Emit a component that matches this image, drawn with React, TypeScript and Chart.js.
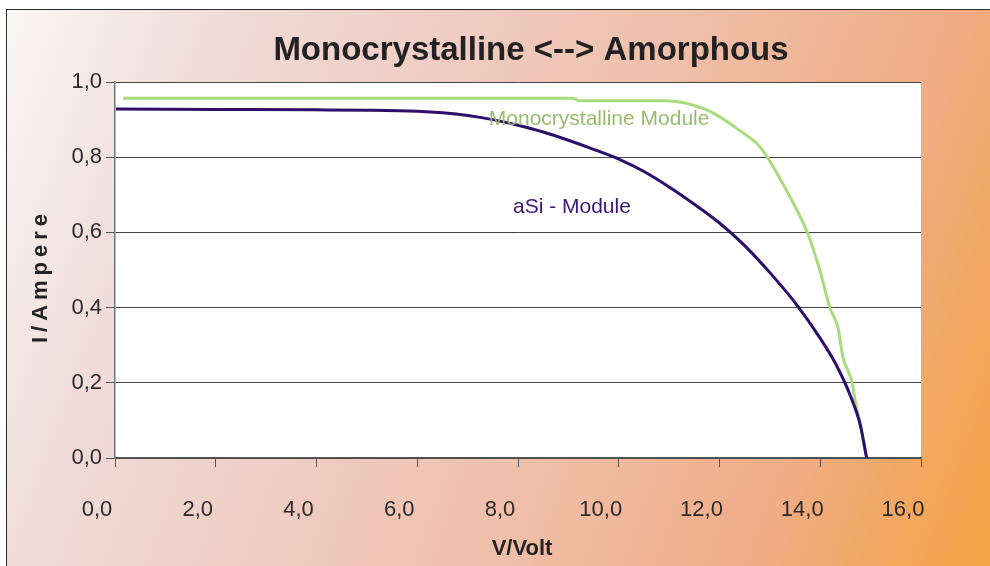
import React, { useEffect, useRef } from 'react';
import { Chart, registerables } from 'chart.js';

Chart.register(...registerables);

const titleText = 'Monocrystalline <--> Amorphous';
const xTitle = 'V/Volt';
const yTitle = 'I/Ampere';
const monoLabel = 'Monocrystalline Module';
const asiLabel = 'aSi - Module';

const xTicks = [0, 2, 4, 6, 8, 10, 12, 14, 16];
const yTicks = [0, 0.2, 0.4, 0.6, 0.8, 1.0];

const monoV = [0.16, 9.09, 9.22, 10.9, 11.47, 11.87, 12.41, 12.8, 12.96, 13.4, 13.74, 13.99, 14.19, 14.35, 14.45, 14.63, 14.69, 14.79, 14.89, 14.92];
const monoI = [0.957, 0.957, 0.95, 0.95, 0.939, 0.918, 0.87, 0.828, 0.798, 0.694, 0.601, 0.5, 0.4, 0.348, 0.269, 0.202, 0.154, 0.093, 0.021, 0.008];

const asiV = [0.02, 2.0, 4.0, 5.0, 6.0, 6.5, 7.0, 7.5, 8.0, 8.5, 9.0, 9.5, 10.0, 10.5, 11.0, 11.5, 12.0, 12.5, 13.0, 13.5, 14.0, 14.3, 14.6, 14.8, 14.92];
const asiI = [0.928, 0.927, 0.926, 0.925, 0.922, 0.918, 0.911, 0.9, 0.885, 0.867, 0.845, 0.821, 0.795, 0.762, 0.721, 0.675, 0.625, 0.565, 0.493, 0.413, 0.318, 0.252, 0.165, 0.085, 0.0];

const FONT = "'Liberation Sans', Arial, sans-serif";
const fmt = (v: number) => Number(v).toFixed(1).replace('.', ',');

const textPlugin = {
  id: 'texts',
  beforeDraw(chart: any) {
    const { ctx, chartArea } = chart;
    ctx.save();
    ctx.fillStyle = '#ffffff';
    ctx.fillRect(chartArea.left, chartArea.top, chartArea.right - chartArea.left, chartArea.bottom - chartArea.top);
    ctx.restore();
  },
  afterDatasetsDraw(chart: any) {
    const { ctx, scales } = chart;
    const x = scales.x;
    const y = scales.y;
    ctx.save();
    ctx.textAlign = 'center';
    ctx.textBaseline = 'alphabetic';
    ctx.font = `21px ${FONT}`;
    ctx.fillStyle = '#9abb6e';
    ctx.fillText(monoLabel, x.getPixelForValue(9.61), y.getPixelForValue(0.886));
    ctx.fillStyle = '#3a1878';
    ctx.fillText(asiLabel, x.getPixelForValue(9.07), y.getPixelForValue(0.652));
    ctx.restore();
  },
  afterDraw(chart: any) {
    const { ctx } = chart;
    ctx.save();
    ctx.fillStyle = '#222222';
    ctx.textAlign = 'center';
    ctx.textBaseline = 'alphabetic';
    ctx.font = `bold 33px ${FONT}`;
    ctx.fillText(titleText, 531, 60);
    ctx.font = `bold 22px ${FONT}`;
    ctx.fillText(xTitle, 522, 555);
    ctx.translate(47, 276);
    ctx.rotate(-Math.PI / 2);
    (ctx as any).letterSpacing = '5px';
    ctx.fillText(yTitle, 0, 0);
    ctx.restore();
  },
};

export default function App() {
  const ref = useRef<HTMLCanvasElement | null>(null);

  useEffect(() => {
    if (!ref.current) return;
    const chart = new Chart(ref.current, {
      type: 'line',
      data: {
        datasets: [
          {
            label: asiLabel,
            data: asiV.map((v, i) => ({ x: v, y: asiI[i] })),
            borderColor: '#2d0e6b',
            borderWidth: 3,
            pointRadius: 0,
            fill: false,
            cubicInterpolationMode: 'monotone',
          },
          {
            label: monoLabel,
            data: monoV.map((v, i) => ({ x: v, y: monoI[i] })),
            borderColor: '#a8dc7c',
            borderWidth: 3,
            pointRadius: 0,
            fill: false,
            cubicInterpolationMode: 'monotone',
          },
        ],
      },
      options: {
        animation: false,
        responsive: false,
        devicePixelRatio: 1,
        layout: { padding: { top: 82, right: 69, left: 0, bottom: 0 } },
        plugins: {
          legend: { display: false },
          tooltip: { enabled: false },
          title: { display: false },
        },
        scales: {
          x: {
            type: 'linear',
            min: 0,
            max: 16,
            afterBuildTicks: (s: any) => {
              s.ticks = xTicks.map((v) => ({ value: v }));
            },
            afterFit: (s: any) => {
              s.height = 108;
            },
            ticks: {
              callback: (v: any) => fmt(v),
              font: { size: 22, family: FONT },
              color: '#2b2b2b',
              padding: 30,
              labelOffset: -18,
              maxRotation: 0,
              autoSkip: false,
            },
            grid: {
              drawOnChartArea: false,
              drawTicks: true,
              tickLength: 9,
              tickColor: '#555555',
            },
            border: { color: '#555555', width: 1.5 },
          },
          y: {
            type: 'linear',
            min: 0,
            max: 1,
            afterBuildTicks: (s: any) => {
              s.ticks = yTicks.map((v) => ({ value: v }));
            },
            afterFit: (s: any) => {
              s.width = 115;
            },
            ticks: {
              callback: (v: any) => fmt(v),
              font: { size: 22, family: FONT },
              color: '#2b2b2b',
              padding: 4,
              autoSkip: false,
            },
            grid: {
              color: '#444444',
              lineWidth: 1,
              drawTicks: true,
              tickLength: 9,
              tickColor: '#555555',
            },
            border: { color: '#777777', width: 1.5 },
          },
        },
      },
      plugins: [textPlugin],
    } as any);
    return () => chart.destroy();
  }, []);

  return (
    <div style={{ position: 'absolute', left: 0, top: 0, width: 990, height: 566, overflow: 'hidden', background: '#ffffff' }}>
      <div
        style={{
          position: 'absolute',
          left: 6,
          top: 9,
          width: 984,
          height: 557,
          boxSizing: 'border-box',
          borderLeft: '1.5px solid #2a2a2a',
          borderTop: '1.5px solid #2a2a2a',
          background: 'linear-gradient(110deg, #f9f7f6 0%, #f0dcd8 18%, #efcbc1 40%, #efbfa9 58%, #f0ac85 80%, #f3a442 100%)',
        }}
      />
      <canvas ref={ref} width={990} height={566} style={{ position: 'absolute', left: 0, top: 0, width: 990, height: 566 }} />
    </div>
  );
}
